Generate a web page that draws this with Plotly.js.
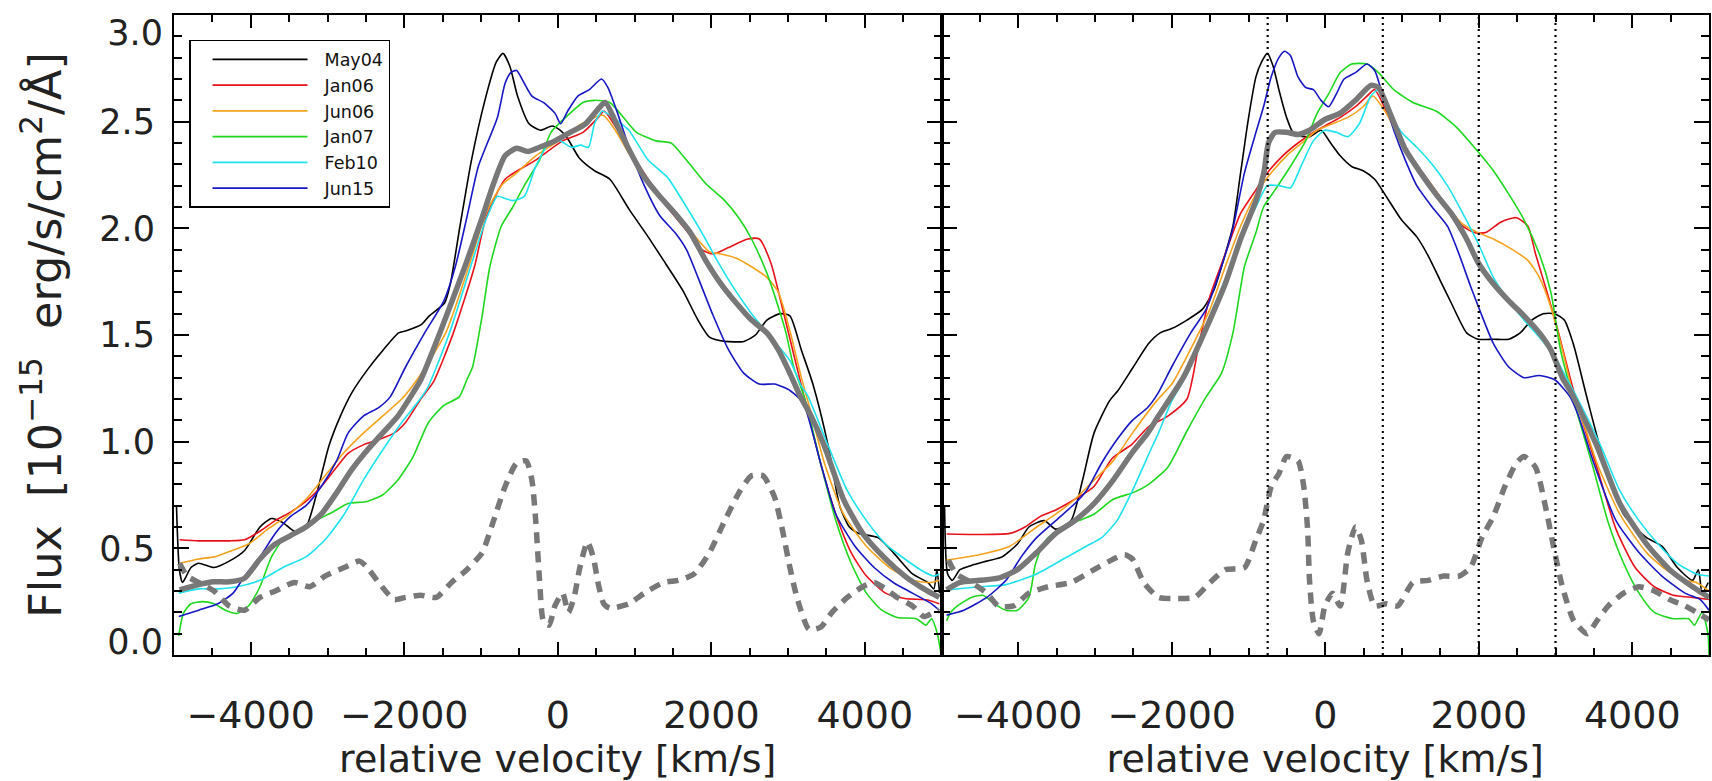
<!DOCTYPE html>
<html>
<head>
<meta charset="utf-8">
<script src="https://cdn.plot.ly/plotly-3.0.1.min.js"></script>
<style>html,body{margin:0;padding:0;background:#fff;}#chart{width:1712px;height:781px;}</style>
</head>
<body>
<div id="chart"></div>
<script>
// ---------- series names & colours ----------
const seriesNames = ["May04", "Jan06", "Jun06", "Jan07", "Feb10", "Jun15"];
const seriesColors = ["#000000", "#e8101a", "#f5a21e", "#1fd81f", "#1ee3ee", "#1616c4"];

// ---------- LEFT panel (velocity km/s, flux 1e-15) ----------
const vMay04L = [-4968,-4930,-4890,-4853,-4779,-4679,-4479,-4280,-4080,-3880,-3730,-3580,-3431,-3281,-3131,-2982,-2832,-2682,-2474,-2274,-2074,-1974,-1774,-1674,-1474,-1399,-1274,-1124,-949,-800,-714,-624,-524,-374,-224,-74,30,130,280,480,679,928,1178,1378,1627,1827,1977,2176,2426,2576,2725,2900,3025,3174,3324,3524,3673,3800,3923,4173,4372,4622,4821,4900,4940,4975];
const fMay04L = [0.70,0.40,0.34,0.36,0.41,0.43,0.41,0.44,0.49,0.60,0.64,0.62,0.58,0.60,0.77,0.98,1.12,1.23,1.34,1.43,1.51,1.52,1.55,1.59,1.65,1.74,2.01,2.32,2.60,2.78,2.82,2.76,2.62,2.49,2.46,2.48,2.46,2.42,2.33,2.27,2.23,2.09,1.96,1.85,1.71,1.57,1.49,1.47,1.47,1.50,1.57,1.60,1.59,1.43,1.27,0.98,0.70,0.60,0.57,0.55,0.48,0.38,0.34,0.31,0.40,0.29];

const vJan06L = [-4928,-4679,-4479,-4280,-4080,-3880,-3681,-3481,-3281,-3081,-2882,-2732,-2533,-2333,-2133,-1983,-1784,-1620,-1360,-1085,-935,-686,-287,63,329,529,604,729,928,1178,1427,1677,1877,2026,2226,2476,2625,2775,2925,3074,3224,3424,3623,3823,4022,4272,4522,4821,4971];
const fJan06L = [0.54,0.535,0.535,0.535,0.54,0.58,0.63,0.67,0.72,0.79,0.88,0.945,0.985,1.01,1.04,1.09,1.20,1.28,1.51,1.82,2.05,2.23,2.32,2.41,2.45,2.52,2.55,2.49,2.37,2.23,2.10,1.99,1.90,1.88,1.91,1.95,1.95,1.84,1.63,1.41,1.19,0.90,0.66,0.48,0.37,0.29,0.265,0.258,0.24];

const vJun06L = [-4928,-4679,-4479,-4280,-4030,-3780,-3531,-3281,-3032,-2782,-2533,-2283,-2033,-1834,-1460,-1160,-935,-736,-536,-287,13,312,589,750,928,1178,1427,1727,1977,2126,2326,2525,2725,2875,3025,3174,3274,3474,3723,4022,4322,4622,4871,4971];
const fJun06L = [0.43,0.45,0.46,0.485,0.52,0.59,0.65,0.73,0.84,0.95,1.04,1.12,1.20,1.29,1.51,1.82,2.07,2.20,2.26,2.34,2.41,2.49,2.53,2.46,2.35,2.22,2.12,1.99,1.89,1.88,1.86,1.82,1.77,1.70,1.52,1.30,1.17,0.90,0.66,0.51,0.41,0.35,0.34,0.35];

const vJan07L = [-4938,-4878,-4779,-4629,-4479,-4329,-4180,-4030,-3880,-3730,-3581,-3381,-3181,-2932,-2732,-2483,-2283,-2083,-1884,-1684,-1484,-1284,-1185,-1110,-985,-885,-736,-586,-436,-237,-87,163,329,479,679,878,1028,1278,1477,1677,1927,2176,2376,2525,2725,2875,2974,3074,3220,3424,3623,3823,4022,4222,4422,4671,4796,4871,4946,4996];
const fJan07L = [0.09,0.195,0.24,0.25,0.24,0.21,0.195,0.23,0.32,0.46,0.54,0.585,0.625,0.67,0.71,0.72,0.75,0.82,0.93,1.09,1.17,1.21,1.29,1.35,1.59,1.82,2.01,2.10,2.20,2.32,2.45,2.54,2.59,2.60,2.59,2.51,2.45,2.41,2.40,2.32,2.21,2.13,2.04,1.95,1.79,1.63,1.51,1.35,1.20,0.90,0.63,0.43,0.29,0.21,0.176,0.17,0.14,0.17,0.10,0.0];

const vFeb10L = [-4938,-4679,-4429,-4180,-3880,-3581,-3281,-3032,-2782,-2533,-2283,-2033,-1834,-1700,-1410,-1135,-935,-786,-686,-586,-436,-287,-87,30,180,300,400,479,580,680,830,928,1178,1427,1677,1877,2076,2276,2525,2775,3025,3174,3250,3524,3773,4022,4272,4522,4771,4896,4971];
const fFeb10L = [0.29,0.31,0.31,0.32,0.35,0.41,0.46,0.54,0.66,0.82,0.96,1.09,1.18,1.25,1.51,1.82,2.04,2.15,2.14,2.13,2.15,2.29,2.41,2.41,2.38,2.39,2.38,2.49,2.55,2.53,2.49,2.46,2.32,2.24,2.10,1.98,1.85,1.73,1.60,1.49,1.38,1.26,1.22,0.98,0.77,0.63,0.52,0.45,0.39,0.37,0.38];

const vJun15L = [-4938,-4679,-4429,-4230,-4080,-3880,-3681,-3481,-3281,-3081,-2882,-2732,-2533,-2333,-2183,-1983,-1734,-1484,-1335,-1185,-1035,-786,-686,-611,-536,-436,-337,-187,-37,38,130,262,412,569,654,779,928,1128,1328,1527,1677,1827,2026,2226,2426,2625,2825,3025,3200,3424,3623,3873,4122,4372,4622,4871,4971];
const fJun15L = [0.18,0.21,0.24,0.29,0.37,0.46,0.57,0.65,0.70,0.79,0.91,1.04,1.12,1.16,1.21,1.35,1.51,1.66,1.82,2.05,2.29,2.52,2.68,2.73,2.74,2.68,2.62,2.59,2.54,2.49,2.55,2.62,2.65,2.70,2.66,2.54,2.38,2.20,2.06,1.98,1.90,1.77,1.59,1.43,1.32,1.27,1.27,1.24,1.18,0.90,0.66,0.51,0.41,0.34,0.29,0.24,0.21];

const vMeanL = [-4928,-4679,-4479,-4280,-4080,-3880,-3681,-3481,-3281,-3081,-2882,-2682,-2483,-2283,-2083,-1884,-1784,-1535,-1210,-985,-836,-686,-536,-387,-237,-37,163,362,552,619,779,928,1128,1328,1527,1727,1927,2126,2326,2525,2725,2875,3025,3150,3300,3474,3723,3973,4272,4522,4771,4971];
const fMeanL = [0.305,0.33,0.343,0.343,0.36,0.45,0.52,0.56,0.60,0.66,0.76,0.87,0.96,1.04,1.12,1.23,1.29,1.51,1.82,2.05,2.21,2.34,2.375,2.36,2.38,2.41,2.45,2.49,2.57,2.59,2.48,2.37,2.24,2.15,2.07,1.98,1.85,1.74,1.65,1.57,1.51,1.43,1.32,1.22,1.12,0.98,0.73,0.57,0.45,0.37,0.31,0.27];

const vRmsL = [-4928,-4828,-4679,-4479,-4280,-4080,-3880,-3681,-3431,-3231,-3032,-2782,-2583,-2483,-2333,-2133,-1983,-1784,-1584,-1384,-1185,-985,-836,-686,-536,-412,-337,-287,-237,-187,-112,-37,63,138,213,288,387,462,530,600,679,928,1128,1378,1577,1777,1977,2176,2376,2525,2675,2825,2925,3025,3124,3274,3424,3573,3773,3973,4122,4272,4422,4622,4771,4896,4971];
const fRmsL = [0.43,0.37,0.34,0.30,0.23,0.21,0.27,0.30,0.34,0.32,0.37,0.41,0.44,0.41,0.34,0.26,0.27,0.28,0.27,0.34,0.40,0.48,0.63,0.79,0.90,0.91,0.82,0.63,0.35,0.16,0.14,0.23,0.29,0.20,0.27,0.41,0.53,0.46,0.33,0.24,0.22,0.24,0.29,0.34,0.35,0.38,0.48,0.63,0.77,0.84,0.84,0.74,0.59,0.41,0.26,0.12,0.13,0.20,0.27,0.32,0.34,0.31,0.27,0.23,0.18,0.20,0.21];

// ---------- RIGHT panel ----------
const vMay04R = [-4960,-4920,-4859,-4760,-4610,-4410,-4211,-4011,-3861,-3662,-3512,-3312,-3162,-3013,-2813,-2700,-2501,-2301,-2151,-2001,-1802,-1602,-1452,-1303,-1203,-1103,-1003,-903,-829,-754,-679,-604,-504,-404,-205,-55,70,195,344,494,644,794,993,1193,1343,1492,1642,1842,1991,2191,2391,2540,2690,2840,2990,3115,3239,3400,3638,3888,4187,4387,4587,4786,4861,4911,4990];
const fMay04R = [0.70,0.38,0.35,0.40,0.42,0.44,0.46,0.52,0.60,0.63,0.59,0.63,0.82,1.04,1.19,1.24,1.35,1.46,1.51,1.53,1.57,1.62,1.71,1.88,2.01,2.26,2.51,2.71,2.78,2.82,2.76,2.65,2.52,2.44,2.43,2.46,2.40,2.34,2.29,2.27,2.23,2.15,2.04,1.96,1.87,1.76,1.65,1.51,1.48,1.48,1.48,1.51,1.57,1.60,1.60,1.57,1.45,1.22,0.90,0.66,0.55,0.51,0.41,0.35,0.40,0.29,0.34];

const vJan06R = [-4934,-4500,-4110,-3911,-3711,-3512,-3262,-3013,-2780,-2513,-2301,-2051,-1802,-1650,-1503,-1303,-1103,-903,-754,-554,-355,-155,-5,195,394,544,644,794,993,1193,1392,1592,1792,1941,2091,2291,2490,2640,2740,2890,3040,3190,3330,3539,3788,4038,4287,4537,4786,5000];
const fJan06R = [0.567,0.565,0.57,0.60,0.65,0.68,0.73,0.79,0.92,0.99,1.07,1.12,1.20,1.45,1.68,1.88,2.07,2.18,2.26,2.34,2.40,2.45,2.48,2.52,2.57,2.62,2.65,2.55,2.41,2.30,2.20,2.10,2.01,1.98,1.98,2.03,2.05,2.01,1.88,1.70,1.51,1.30,1.12,0.88,0.59,0.41,0.32,0.28,0.27,0.26];

const vJun06R = [-4934,-4510,-4110,-3761,-3512,-3262,-3013,-2763,-2513,-2200,-2000,-1802,-1503,-1303,-1103,-903,-704,-504,-305,-105,95,294,494,619,794,993,1193,1392,1592,1792,1991,2191,2440,2640,2790,2940,3090,3239,3400,3539,3838,4187,4437,4687,4836,5000];
const fJun06R = [0.445,0.47,0.51,0.60,0.66,0.73,0.82,0.91,1.04,1.19,1.27,1.40,1.62,1.82,2.01,2.16,2.26,2.34,2.40,2.46,2.49,2.52,2.57,2.62,2.54,2.40,2.29,2.20,2.10,2.02,1.98,1.95,1.90,1.85,1.77,1.63,1.43,1.21,1.05,0.90,0.66,0.48,0.40,0.35,0.34,0.30];

const vJan07R = [-4934,-4880,-4809,-4610,-4460,-4310,-4160,-4011,-3861,-3780,-3700,-3612,-3412,-3212,-3013,-2763,-2513,-2301,-2051,-1802,-1552,-1353,-1203,-1053,-903,-804,-654,-454,-255,-105,45,195,344,544,694,893,1143,1442,1692,1941,2191,2391,2590,2790,2940,3065,3230,3489,3688,3888,4088,4287,4537,4736,4811,4911,4986,5000];
const fJan07R = [0.16,0.20,0.226,0.27,0.28,0.24,0.21,0.21,0.27,0.42,0.50,0.55,0.60,0.63,0.66,0.73,0.76,0.80,0.88,1.05,1.21,1.32,1.51,1.82,1.98,2.10,2.18,2.29,2.41,2.54,2.63,2.73,2.77,2.77,2.73,2.65,2.59,2.55,2.48,2.38,2.27,2.16,2.04,1.88,1.70,1.43,1.20,0.88,0.62,0.43,0.29,0.20,0.17,0.17,0.14,0.20,0.10,0.0];

const vFeb10R = [-4934,-4510,-4160,-3761,-3412,-3112,-2913,-2713,-2513,-2314,-2174,-2001,-1780,-1503,-1303,-1103,-903,-754,-604,-454,-305,-155,-5,145,294,444,594,694,794,993,1193,1392,1592,1792,1991,2191,2391,2590,2790,2990,3140,3260,3589,3838,4088,4337,4587,4836,5000];
const fFeb10R = [0.305,0.32,0.33,0.38,0.45,0.51,0.55,0.63,0.77,0.93,1.04,1.19,1.33,1.59,1.76,1.95,2.10,2.20,2.20,2.19,2.30,2.41,2.46,2.45,2.43,2.49,2.62,2.65,2.57,2.45,2.38,2.30,2.20,2.07,1.93,1.77,1.66,1.57,1.49,1.40,1.30,1.22,0.98,0.77,0.63,0.52,0.43,0.38,0.37];

const vJun15R = [-4934,-4709,-4410,-4160,-3961,-3761,-3512,-3262,-3112,-2913,-2713,-2513,-2314,-2174,-2001,-1752,-1552,-1353,-1203,-1053,-903,-804,-704,-604,-529,-454,-355,-255,-155,-55,45,145,245,394,544,644,744,893,1043,1193,1392,1592,1742,1892,2041,2191,2391,2590,2790,2990,3190,3300,3489,3788,4088,4387,4687,4886,5000];
const fJun15R = [0.187,0.21,0.27,0.35,0.46,0.55,0.63,0.71,0.77,0.90,1.01,1.10,1.16,1.23,1.35,1.51,1.62,1.82,2.00,2.26,2.45,2.57,2.71,2.80,2.83,2.81,2.71,2.66,2.65,2.60,2.57,2.63,2.70,2.73,2.77,2.74,2.63,2.46,2.32,2.20,2.10,2.01,1.88,1.73,1.59,1.46,1.35,1.30,1.31,1.29,1.21,1.12,0.91,0.63,0.48,0.37,0.29,0.26,0.21];

const vMeanR = [-4934,-4760,-4510,-4261,-4011,-3761,-3512,-3262,-3013,-2763,-2513,-2314,-2174,-1850,-1503,-1303,-1103,-903,-800,-740,-654,-504,-355,-205,-5,195,394,594,694,843,1043,1243,1442,1642,1842,1991,2191,2391,2590,2790,2940,3090,3220,3539,3838,4187,4487,4786,5000];
const fMeanR = [0.305,0.34,0.35,0.36,0.40,0.48,0.57,0.63,0.71,0.82,0.95,1.04,1.12,1.30,1.57,1.74,1.95,2.13,2.26,2.40,2.45,2.45,2.44,2.46,2.51,2.54,2.60,2.67,2.66,2.54,2.37,2.26,2.16,2.07,1.95,1.84,1.74,1.66,1.59,1.51,1.43,1.30,1.22,0.98,0.71,0.52,0.40,0.32,0.27];

const vRmsR = [-4909,-4809,-4610,-4410,-4261,-4061,-3861,-3612,-3312,-3013,-2813,-2613,-2513,-2364,-2174,-1952,-1702,-1502,-1303,-1053,-903,-804,-704,-604,-504,-355,-280,-230,-205,-155,-80,-5,95,195,294,394,469,544,644,794,943,1143,1342,1542,1742,1892,2041,2191,2341,2491,2590,2740,2890,2990,3090,3239,3414,3539,3688,3888,4088,4287,4487,4687,4836,5000];
const fRmsR = [0.445,0.38,0.34,0.29,0.23,0.23,0.29,0.32,0.34,0.40,0.44,0.47,0.45,0.34,0.27,0.265,0.27,0.34,0.40,0.41,0.54,0.63,0.79,0.85,0.93,0.91,0.79,0.59,0.35,0.16,0.10,0.23,0.29,0.23,0.48,0.60,0.54,0.35,0.23,0.24,0.23,0.34,0.35,0.37,0.37,0.41,0.55,0.65,0.79,0.90,0.93,0.88,0.66,0.48,0.32,0.16,0.10,0.16,0.23,0.29,0.32,0.30,0.26,0.23,0.20,0.165];

// vertical dotted marker velocities (right panel)
const markerVelocities = [-750, 750, 2000, 3000];

// axis ticks
const xRange = [-5000, 5000], yRange = [0, 3];
const xMajorStep = 2000, xMinorStep = 500;
const yMinorStep = 0.1;
const yInnerTicks = [0.5, 1.0, 1.5, 2.0, 2.5];
const yTopTick = [3.0], yBottomTick = [0.0];

// ---------- build traces ----------
const FONT = '"DejaVu Sans", sans-serif';
const leftV = [vMay04L, vJan06L, vJun06L, vJan07L, vFeb10L, vJun15L];
const leftF = [fMay04L, fJan06L, fJun06L, fJan07L, fFeb10L, fJun15L];
const rightV = [vMay04R, vJan06R, vJun06R, vJan07R, vFeb10R, vJun15R];
const rightF = [fMay04R, fJan06R, fJun06R, fJan07R, fFeb10R, fJun15R];

const traces = [];
function addPanel(vs, fs, vMean, fMean, vRms, fRms, xa, ya, legend) {
  for (let i = 0; i < seriesNames.length; i++) {
    traces.push({
      type: 'scatter', mode: 'lines', x: vs[i], y: fs[i], name: seriesNames[i],
      xaxis: xa, yaxis: ya, showlegend: legend, legendgroup: seriesNames[i],
      line: {color: seriesColors[i], width: 1.6, shape: 'spline', smoothing: 0.6},
      hoverinfo: 'skip'
    });
  }
  traces.push({type: 'scatter', mode: 'lines', x: vMean, y: fMean, name: 'mean', xaxis: xa, yaxis: ya,
    showlegend: false, line: {color: '#787878', width: 5.5, shape: 'spline', smoothing: 0.6}, hoverinfo: 'skip'});
  traces.push({type: 'scatter', mode: 'lines', x: vRms, y: fRms, name: 'rms', xaxis: xa, yaxis: ya,
    showlegend: false, line: {color: '#787878', width: 5.5, dash: '11px,8px', shape: 'spline', smoothing: 0.6}, hoverinfo: 'skip'});
}
addPanel(leftV, leftF, vMeanL, fMeanL, vRmsL, fRmsL, 'x', 'y', true);
addPanel(rightV, rightF, vMeanR, fMeanR, vRmsR, fRmsR, 'x2', 'y2', false);
markerVelocities.forEach(v => {
  traces.push({type: 'scatter', mode: 'lines', x: [v, v], y: yRange, xaxis: 'x2', yaxis: 'y2',
    showlegend: false, line: {color: '#000', width: 2.2, dash: '2px,4px'}, hoverinfo: 'skip'});
});
// empty carriers so the end-label axes are drawn
['y3', 'y4'].forEach(ya => traces.push({type: 'scatter', mode: 'lines', x: [null], y: [null], xaxis: 'x', yaxis: ya, showlegend: false, hoverinfo: 'skip'}));

// ---------- layout ----------
function xAxis(domain, anchor) {
  return {
    domain: domain, anchor: anchor, range: xRange,
    tickmode: 'linear', tick0: 0, dtick: xMajorStep,
    ticks: 'inside', ticklen: 13, tickwidth: 2, tickcolor: '#000',
    minor: {dtick: xMinorStep, tick0: 0, ticks: 'inside', ticklen: 7, tickwidth: 2, tickcolor: '#000'},
    showline: true, linecolor: '#000', linewidth: 2, mirror: 'ticks',
    showgrid: false, zeroline: false,
    tickfont: {family: FONT, size: 38, color: '#222'}, ticklabelstandoff: 25,
    title: {text: 'relative velocity [km/s]', font: {family: FONT, size: 38, color: '#222'}, standoff: 30}
  };
}
const yTickFont = {family: FONT, size: 35, color: '#222'};
function yAxis(anchor, labels) {
  const a = {
    anchor: anchor, range: yRange,
    tickmode: 'array', tickvals: yInnerTicks, tickformat: '.1f',
    ticks: 'inside', ticklen: 15, tickwidth: 2, tickcolor: '#000',
    minor: {tickmode: 'linear', dtick: yMinorStep, tick0: 0, ticks: 'inside', ticklen: 8, tickwidth: 2, tickcolor: '#000'},
    showline: true, linecolor: '#000', linewidth: 2, mirror: 'ticks',
    showgrid: false, zeroline: false, showticklabels: labels,
    tickfont: yTickFont, ticklabelstandoff: 10
  };
  if (labels) {
    a.title = {text: 'Flux\u00a0 [10<sup>\u221215</sup>\u00a0 erg/s/cm<sup>2</sup>/\u00c5]', font: {family: FONT, size: 44.5, color: '#222'}, standoff: 24};
  }
  return a;
}
function endLabelAxis(vals, shift) {
  return {
    overlaying: 'y', anchor: 'x', side: 'left', range: yRange,
    tickmode: 'array', tickvals: vals, tickformat: '.1f',
    ticks: '', showline: false, showgrid: false, zeroline: false,
    tickfont: yTickFont, ticklabelstandoff: 10, ticklabelshift: shift, ticklabeloverflow: 'allow'
  };
}

const layout = {
  width: 1712, height: 781,
  margin: {l: 174, r: 3, t: 15, b: 126},
  paper_bgcolor: '#fff', plot_bgcolor: '#fff',
  showlegend: true,
  legend: {x: 0.0098, y: 0.961, xanchor: 'left', yanchor: 'top',
    bgcolor: '#fff', bordercolor: '#000', borderwidth: 1.5,
    font: {family: FONT, size: 17.5, color: '#111'}, itemwidth: 124, tracegroupgap: 0},
  xaxis: xAxis([0, 0.5], 'y'),
  yaxis: yAxis('x', true),
  xaxis2: xAxis([0.5, 1], 'y2'),
  yaxis2: yAxis('x2', false),
  yaxis3: endLabelAxis(yTopTick, 18),
  yaxis4: endLabelAxis(yBottomTick, -13)
};

Plotly.newPlot('chart', traces, layout, {staticPlot: true, displayModeBar: false}).then(gd => {
  // lengthen legend line samples to match the reference
  gd.querySelectorAll('.legend .legendlines path').forEach(p => p.setAttribute('d', 'M22,0h95'));
});
</script>
</body>
</html>
